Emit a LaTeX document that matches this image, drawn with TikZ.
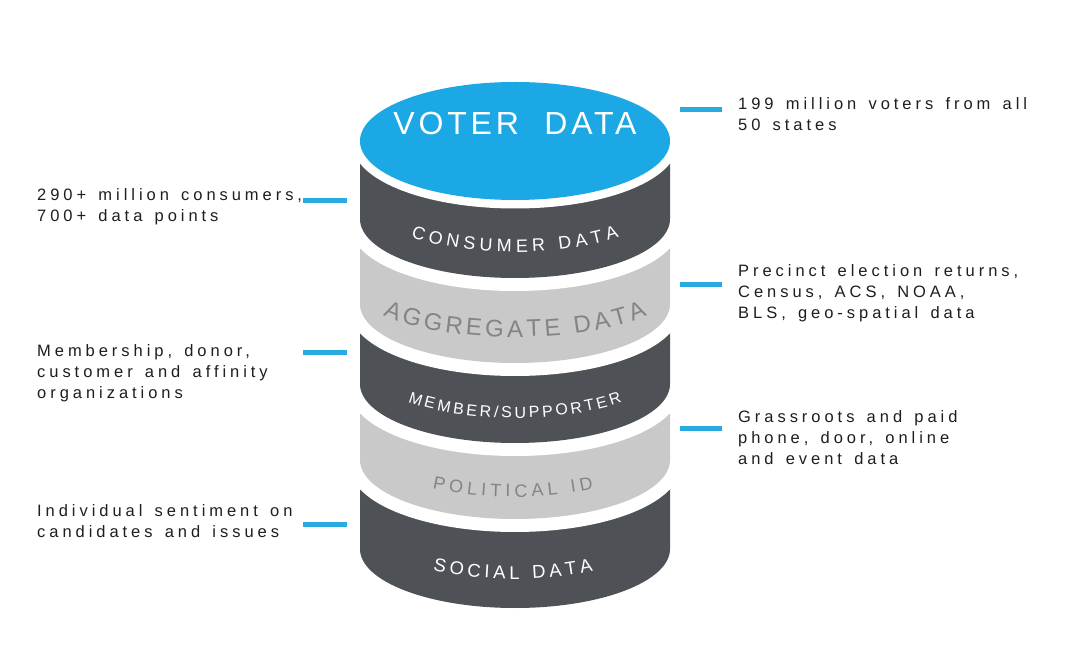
\documentclass[tikz,border=0pt]{standalone}
\usepackage{fontspec}
\setmainfont{Liberation Sans}
\newfontfamily\annfont[LetterSpace=24,WordSpace=1.43]{Liberation Sans}
\newfontfamily\voterfont[LetterSpace=12,WordSpace=2.0]{Liberation Sans}
\newfontfamily\bandfont{Liberation Sans}
\usetikzlibrary{decorations.text,calc}
\definecolor{vblue}{RGB}{28,168,228}
\definecolor{dashblue}{RGB}{41,171,226}
\definecolor{darkband}{RGB}{78,81,86}
\definecolor{lightband}{RGB}{201,201,201}
\definecolor{graytext}{RGB}{132,132,132}
\definecolor{anntext}{RGB}{30,30,30}
\newcommand\myslice[4]{%
  \path[fill=#1, preaction={draw=white, line width=#4}]
    (360,#2) arc[start angle=180,end angle=0,x radius=155,y radius=59]
    -- (670,#3) arc[start angle=0,end angle=-180,x radius=155,y radius=59] -- cycle;}
\newcommand\arclabel[7]{%
  \path[decorate,decoration={text along path,text align={fit to path},text color=#6,
      text={|\bandfont\fontsize{#5}{#5}\selectfont|#7}}]
    ($(#1,#2)+({180+#4}:155 and #3)$)
    arc[start angle={180+#4}, end angle={360-#4}, x radius=155, y radius=#3];}
\begin{document}
\begin{tikzpicture}[x=1pt,y=1pt,
  dashline/.style={draw=dashblue,line width=5pt},
  ann/.style={font=\annfont\fontsize{16.5}{20.7}\selectfont, text=anntext, align=left, inner sep=0pt, anchor=base west},
  voterlbl/.style={font=\voterfont\fontsize{32}{32}\selectfont, text=white, anchor=base, inner sep=0pt}]
\useasboundingbox[fill=white] (0,0) rectangle (1071,662);
% cylinder slices, bottom to top
\myslice{darkband}{202}{113}{26}
\myslice{lightband}{278}{202}{26}
\myslice{darkband}{358}{278}{26}
\myslice{lightband}{443}{358}{26}
\myslice{darkband}{521}{443}{26}
\myslice{vblue}{521}{521}{17}
% labels
\node[voterlbl] (voter) at (515,527) {VOTER DATA};
\arclabel{515}{468}{58}{47.85}{18}{white}{CONSUMER DATA}
\arclabel{515}{371}{46}{31.6}{24}{graytext}{AGGREGATE DATA}
\arclabel{515}{302}{58}{46.35}{16}{white}{MEMBER/SUPPORTER}
\arclabel{513}{223}{58}{58.7}{18}{graytext}{POLITICAL ID}
\arclabel{513}{141}{58}{58.9}{18.5}{white}{SOCIAL DATA}
% annotations (anchor at the baseline of the last line)
\node[ann] (t1) at (738,531.3) {199 million voters from all\\50 states};
\node[ann] (t2) at (37,440.3) {290+ million consumers,\\700+ data points};
\node[ann] (t3) at (738,343.6) {Precinct election returns,\\Census, ACS, NOAA,\\BLS, geo-spatial data};
\node[ann] (t4) at (37,263.9) {Membership, donor,\\customer and affinity\\organizations};
\node[ann] (t5) at (738,197.9) {Grassroots and paid\\phone, door, online\\and event data};
\node[ann] (t6) at (37,124.6) {Individual sentiment on\\candidates and issues};
% dashes
\coordinate (d1a) at (680,552.5); \coordinate (d1b) at (722,552.5);
\coordinate (d2a) at (303,461.5); \coordinate (d2b) at (347,461.5);
\coordinate (d3a) at (680,377.5); \coordinate (d3b) at (722,377.5);
\coordinate (d4a) at (303,309.5); \coordinate (d4b) at (347,309.5);
\coordinate (d5a) at (680,233.5); \coordinate (d5b) at (722,233.5);
\coordinate (d6a) at (303,138); \coordinate (d6b) at (347,138);
\draw[dashline] (d1a) -- (d1b);
\draw[dashline] (d2a) -- (d2b);
\draw[dashline] (d3a) -- (d3b);
\draw[dashline] (d4a) -- (d4b);
\draw[dashline] (d5a) -- (d5b);
\draw[dashline] (d6a) -- (d6b);
\end{tikzpicture}
\end{document}
